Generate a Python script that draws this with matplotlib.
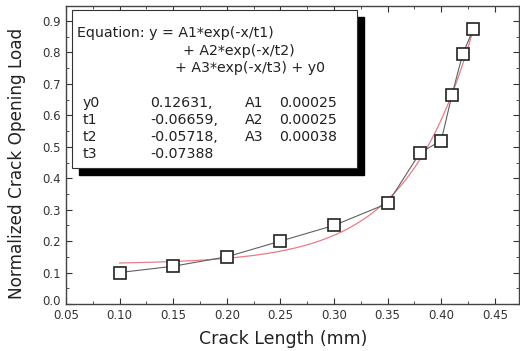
import numpy as np
import matplotlib
matplotlib.use('Agg')
import matplotlib.pyplot as plt
import matplotlib.transforms as mtransforms
from matplotlib.ticker import MultipleLocator
from matplotlib.patches import Rectangle

# measured points
crack_length = [0.10, 0.15, 0.20, 0.25, 0.30, 0.35, 0.38, 0.40, 0.41, 0.42, 0.43]
opening_load = [0.100, 0.120, 0.150, 0.200, 0.250, 0.320, 0.480, 0.520, 0.665, 0.795, 0.875]

# fit parameters shown in the box
y0 = 0.12631
A = [0.00025, 0.00025, 0.00038]
t = [-0.06659, -0.05718, -0.07388]

plt.rcParams['font.family'] = ['DejaVu Sans']

fig = plt.figure(figsize=(5.2, 3.51), dpi=100)
ax = fig.add_axes([0.127, 0.134, 0.871, 0.849])

# fitted curve from the equation
xf = np.linspace(crack_length[0], crack_length[-1], 200)
yf = y0 + sum(a * np.exp(-xf / tt) for a, tt in zip(A, t))
ax.plot(xf, yf, color='#e87c85', lw=0.9, zorder=2)

ax.plot(crack_length, opening_load, color='#606060', lw=0.8, zorder=3)
ax.plot(crack_length, opening_load, ls='none', marker='s', ms=8.3, mfc='white',
        mec='#222222', mew=1.2, zorder=4)

ax.set_xlim(0.05, 0.4725)
ax.set_ylim(0.0, 0.948)
ax.xaxis.set_minor_locator(MultipleLocator(0.025))
ax.yaxis.set_minor_locator(MultipleLocator(0.05))
ax.tick_params(which='both', direction='in', top=True, right=True, labelsize=8.5,
               color='#333333', labelcolor='#333333')
ax.tick_params(which='major', length=4)
ax.tick_params(which='minor', length=2.5)
xt = np.arange(0.05, 0.451, 0.05)
yt = np.arange(0.0, 0.91, 0.1)
ax.set_xticks(xt)
ax.set_xticklabels(['%.2f' % v for v in xt])
ax.set_yticks(yt)
ax.set_yticklabels(['%.1f' % v for v in yt])
for s in ax.spines.values():
    s.set_color('#444444')
    s.set_linewidth(1.0)

# lift the 0.0 label a little so it clears 0.05
lab0 = ax.get_yticklabels()[0]
lab0.set_transform(lab0.get_transform() + mtransforms.ScaledTranslation(0, 3 / 72, fig.dpi_scale_trans))

ax.set_xlabel('Crack Length (mm)', fontsize=12.5, color='#222222')
ax.set_ylabel('Normalized Crack Opening Load', fontsize=12.2, color='#222222')
ax.xaxis.set_label_coords(0.479, -0.088)
ax.yaxis.set_label_coords(-0.088, 0.47)

# equation box with shadow
tr = ax.transAxes
bx, by, bw, bh = 0.013, 0.456, 0.629, 0.531
ax.add_patch(Rectangle((bx + 0.015, by - 0.023), bw, bh, transform=tr,
                       facecolor='black', edgecolor='black', zorder=5))
ax.add_patch(Rectangle((bx, by), bw, bh, transform=tr,
                       facecolor='white', edgecolor='#333333', lw=0.8, zorder=6))

fs = 10.2
tc = '#222222'
ax.text(0.024, 0.909, 'Equation: y = A1*exp(-x/t1)', transform=tr, fontsize=fs, color=tc, zorder=7, va='center')
ax.text(0.258, 0.849, '+ A2*exp(-x/t2)', transform=tr, fontsize=fs, color=tc, zorder=7, va='center')
ax.text(0.241, 0.792, '+ A3*exp(-x/t3) + y0', transform=tr, fontsize=fs, color=tc, zorder=7, va='center')

rows = [('y0', '%.5f,' % y0, 'A1', '%.5f' % A[0]),
        ('t1', '%.5f,' % t[0], 'A2', '%.5f' % A[1]),
        ('t2', '%.5f,' % t[1], 'A3', '%.5f' % A[2]),
        ('t3', '%.5f' % t[2], '', '')]
row_y = [0.674, 0.617, 0.560, 0.503]
for (c1, c2, c3, c4), yy in zip(rows, row_y):
    ax.text(0.037, yy, c1, transform=tr, fontsize=fs, color=tc, zorder=7, va='center')
    ax.text(0.185, yy, c2, transform=tr, fontsize=fs, color=tc, zorder=7, va='center')
    ax.text(0.395, yy, c3, transform=tr, fontsize=fs, color=tc, zorder=7, va='center')
    ax.text(0.470, yy, c4, transform=tr, fontsize=fs, color=tc, zorder=7, va='center')

fig.savefig('out.png', dpi=100)
